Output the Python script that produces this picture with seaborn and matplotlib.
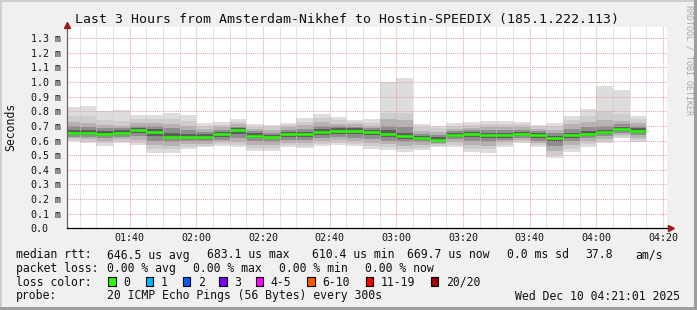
import numpy as np
import pandas as pd
import matplotlib
matplotlib.use("Agg")
import matplotlib.pyplot as plt
import seaborn as sns
from matplotlib.patches import Rectangle
from matplotlib.ticker import MultipleLocator, FixedLocator

# ---------------- data (values in milliseconds, shown as "m") ----------------
bar_end = pd.date_range("2025-12-10 01:25", "2025-12-10 04:15", freq="5min")
median = [.654, .654, .643, .654, .672, .659, .627, .622, .627, .643, .672, .634,
          .627, .643, .643, .661, .668, .668, .661, .645, .631, .620, .606, .640,
          .645, .636, .635, .643, .638, .615, .638, .645, .656, .679, .668]
min_v = [.597, .581, .563, .581, .570, .513, .517, .540, .554, .563, .554, .531,
         .531, .554, .547, .563, .570, .563, .540, .536, .524, .536, .558, .558,
         .524, .517, .554, .586, .554, .479, .524, .559, .581, .615, .593]
max_v = [.828, .837, .800, .810, .775, .775, .790, .777, .722, .727, .745, .713,
         .706, .722, .754, .782, .759, .740, .748, 1.00, 1.03, .713, .700, .722,
         .729, .731, .736, .727, .709, .722, .768, .816, .973, .946, .768]
lo2 = [.605, .595, .585, .595, .585, .54, .545, .555, .565, .575, .57, .55, .55,
       .57, .565, .58, .585, .58, .56, .555, .545, .55, .565, .57, .545, .54, .57,
       .595, .57, .50, .545, .575, .595, .625, .605]
hi2 = [.765, .765, .74, .735, .745, .745, .75, .735, .70, .705, .725, .695, .69,
       .705, .73, .755, .74, .725, .72, .79, .79, .69, .685, .70, .705, .71, .715,
       .71, .695, .70, .74, .77, .80, .78, .745]
lo3 = [.615, .61, .60, .61, .605, .57, .565, .575, .58, .59, .59, .57, .57, .585,
       .585, .60, .605, .60, .585, .575, .565, .57, .575, .59, .57, .565, .59,
       .605, .585, .53, .57, .595, .61, .635, .62]
hi3 = [.73, .72, .705, .70, .72, .72, .715, .70, .68, .69, .71, .68, .67, .69,
       .705, .725, .715, .71, .70, .745, .74, .665, .66, .68, .685, .69, .695,
       .69, .68, .675, .71, .73, .74, .735, .72]
lo4 = [.627, .625, .615, .625, .63, .60, .59, .595, .595, .605, .62, .595, .59,
       .605, .605, .62, .625, .62, .61, .60, .59, .59, .585, .61, .595, .59, .605,
       .615, .60, .56, .595, .615, .63, .65, .635]
hi4 = [.70, .695, .684, .685, .70, .70, .685, .67, .66, .675, .695, .665, .655,
       .675, .68, .70, .70, .695, .688, .70, .69, .645, .64, .665, .67, .67, .675,
       .675, .665, .65, .68, .69, .70, .71, .70]
lo5 = [.638, .64, .63, .64, .65, .63, .61, .61, .61, .625, .645, .615, .61, .625,
       .625, .64, .645, .645, .635, .625, .61, .605, .595, .625, .625, .615, .62,
       .63, .62, .59, .62, .63, .645, .665, .65]
hi5 = [.675, .673, .665, .67, .685, .68, .655, .645, .645, .66, .683, .65, .64,
       .66, .66, .68, .685, .683, .675, .67, .655, .632, .622, .652, .657, .65,
       .65, .66, .65, .63, .655, .665, .675, .695, .685]

y_ticks = [0.0, 0.1, 0.2, 0.3, 0.4, 0.5, 0.6, 0.7, 0.8, 0.9, 1.0, 1.1, 1.2, 1.3]
y_labels = ["0.0", "0.1 m", "0.2 m", "0.3 m", "0.4 m", "0.5 m", "0.6 m", "0.7 m",
            "0.8 m", "0.9 m", "1.0 m", "1.1 m", "1.2 m", "1.3 m"]
x_ticks_min = [100, 120, 140, 160, 180, 200, 220, 240, 260]
x_labels = ["01:40", "02:00", "02:20", "02:40", "03:00", "03:20", "03:40", "04:00", "04:20"]

title = "Last 3 Hours from Amsterdam-Nikhef to Hostin-SPEEDIX (185.1.222.113)"
loss_names = ["0", "1", "2", "3", "4-5", "6-10", "11-19", "20/20"]
loss_colors = ["#26ff00", "#00b8ff", "#0059ff", "#7e00ff", "#ff00ff", "#ff5500",
               "#ff0000", "#a10000"]

# ---------------- figure ----------------
sns.set_style("white")
MONO = ["DejaVu Sans Mono"]
plt.rcParams["font.family"] = MONO

W, H = 697, 310
fig = plt.figure(figsize=(W / 100, H / 100), dpi=100)
fig.patch.set_facecolor("#f0f0f0")

px0, px1 = 66.5, 666.5
py_bot, py_top = 228.3, 27.0
ax = fig.add_axes([px0 / W, (H - py_bot) / H, (px1 - px0) / W, (py_bot - py_top) / H])
ax.set_facecolor("white")

t_end = np.array([t.hour * 60 + t.minute for t in bar_end], dtype=float)
t_start = t_end - 5.0

levels = [(min_v, max_v, "#dddddd"), (lo2, hi2, "#cdcdcd"), (lo3, hi3, "#b3b3b3"),
          (lo4, hi4, "#8e8e8e"), (lo5, hi5, "#5e5e5e")]
for lo, hi, col in levels:
    lo = np.array(lo); hi = np.array(hi)
    ax.bar(t_start, hi - lo, bottom=lo, width=5.0, align="edge", color=col,
           linewidth=0, zorder=1)

df = pd.DataFrame({
    "x": np.concatenate([t_start, t_end]),
    "y": np.concatenate([median, median]),
    "unit": np.concatenate([np.arange(len(median)), np.arange(len(median))]),
})
sns.lineplot(data=df, x="x", y="y", units="unit", estimator=None, color="#26ff00",
             lw=1.8, ax=ax, legend=False, zorder=3, solid_capstyle="butt")

x_lo = 81 + 1 / 60
ax.set_xlim(x_lo, x_lo + 180)
ax.set_ylim(0, (py_bot - py_top) / 146.2)

# grid
ax.xaxis.set_major_locator(FixedLocator(x_ticks_min))
ax.xaxis.set_minor_locator(MultipleLocator(5))
ax.set_yticks(y_ticks)
ax.grid(which="major", axis="x", color="#eaa0a0", linestyle=(0, (1, 1)), lw=0.75)
ax.grid(which="minor", axis="x", color="#c8c8c8", linestyle=(0, (1, 1)), lw=0.75)
ax.grid(which="major", axis="y", color="#eaa0a0", linestyle=(0, (1, 1)), lw=0.75)
ax.set_axisbelow(False)
for gl in ax.get_xgridlines() + ax.get_ygridlines():
    gl.set_zorder(2)

ax.set_xticklabels(x_labels)
ax.set_yticklabels(y_labels, ha="left")
ax.tick_params(axis="y", which="major", length=2.4, width=0.75, color="#555555",
               pad=23.4, labelsize=7.2, labelcolor="#111111")
ax.tick_params(axis="x", which="major", length=1.5, width=0.75, color="#555555",
               pad=2.0, labelsize=7.2, labelcolor="#111111")
ax.tick_params(axis="x", which="minor", length=0)
for lab in ax.get_yticklabels() + ax.get_xticklabels():
    lab.set_fontfamily(MONO)
ax.set_xlabel("")
ax.set_ylabel("")

for s in ["top", "right"]:
    ax.spines[s].set_visible(False)
ax.spines["left"].set_color("#666666")
ax.spines["left"].set_linewidth(0.9)
ax.spines["bottom"].set_color("#000000")
ax.spines["bottom"].set_linewidth(0.9)
ax.spines["left"].set_zorder(4)
ax.spines["bottom"].set_zorder(4)

# axis arrows
ax.plot([0], [1.012], marker="^", ms=4.2, color="#9a1c1c", transform=ax.transAxes,
        clip_on=False, zorder=5)
ax.plot([0, 0], [1.0, 1.012], color="#666666", lw=0.9, transform=ax.transAxes,
        clip_on=False, zorder=4)
ax.plot([1.0, 1.0055], [0, 0], color="#000000", lw=0.9, transform=ax.transAxes,
        clip_on=False, zorder=4)
ax.plot([1.0075], [0], marker=">", ms=4.2, color="#9a1c1c", transform=ax.transAxes,
        clip_on=False, zorder=5)


def ftext(x, y, s, **kw):
    kw.setdefault("fontfamily", MONO)
    kw.setdefault("va", "center")
    kw.setdefault("ha", "left")
    kw.setdefault("color", "#111111")
    fig.text(x / W, 1 - y / H, s, **kw)


ftext(346.7, 19.0, title, ha="center", fontsize=9.5)
ftext(11.0, 127.0, "Seconds", ha="center", rotation=90, fontsize=8.3)
ftext(689.0, 60.0, "RRDTOOL / TOBI OETIKER", ha="center", rotation=270,
      fontsize=6.0, color="#a8a8a8")

fs = 8.3
# line 1
for x, s in [(16, "median rtt:"), (107.3, "646.5 us avg"), (207.3, "683.1 us max"),
             (311.7, "610.4 us min"), (406.7, "669.7 us now"), (507.3, "0.0 ms sd"),
             (585.7, "37.8"), (635.0, "am/s")]:
    ftext(x, 255.0, s, fontsize=fs)
# line 2
for x, s in [(16, "packet loss:"), (107.3, "0.00 % avg"), (193.3, "0.00 % max"),
             (279.3, "0.00 % min"), (365.0, "0.00 % now")]:
    ftext(x, 268.3, s, fontsize=fs)
# line 3
ftext(16, 282.0, "loss color:", fontsize=fs)
sw_x = [108.3, 145.7, 182.7, 219.0, 255.7, 307.3, 365.7, 430.7]
for x, name, col in zip(sw_x, loss_names, loss_colors):
    fig.patches.append(Rectangle((x / W, 1 - 285.7 / H), 7.7 / W, 8.3 / H,
                                 transform=fig.transFigure, facecolor=col,
                                 edgecolor="black", lw=0.8))
    ftext(x + 15.0, 282.0, name, fontsize=fs)
# line 4
ftext(16, 296.0, "probe:", fontsize=fs)
ftext(107.3, 296.0, "20 ICMP Echo Pings (56 Bytes) every 300s", fontsize=fs)
ftext(680.0, 296.0, "Wed Dec 10 04:21:01 2025", ha="right", fontsize=fs)

# 3D border
for (x, y, w, h, c) in [(0, 0, W, 2, "#cfcfcf"), (0, 0, 2, H, "#cfcfcf"),
                        (0, H - 3, W, 3, "#9e9e9e"), (W - 3, 0, 3, H, "#9e9e9e")]:
    fig.patches.append(Rectangle((x / W, 1 - (y + h) / H), w / W, h / H,
                                 transform=fig.transFigure, facecolor=c,
                                 edgecolor="none", lw=0))

fig.savefig("out.png", dpi=100, facecolor=fig.get_facecolor())
